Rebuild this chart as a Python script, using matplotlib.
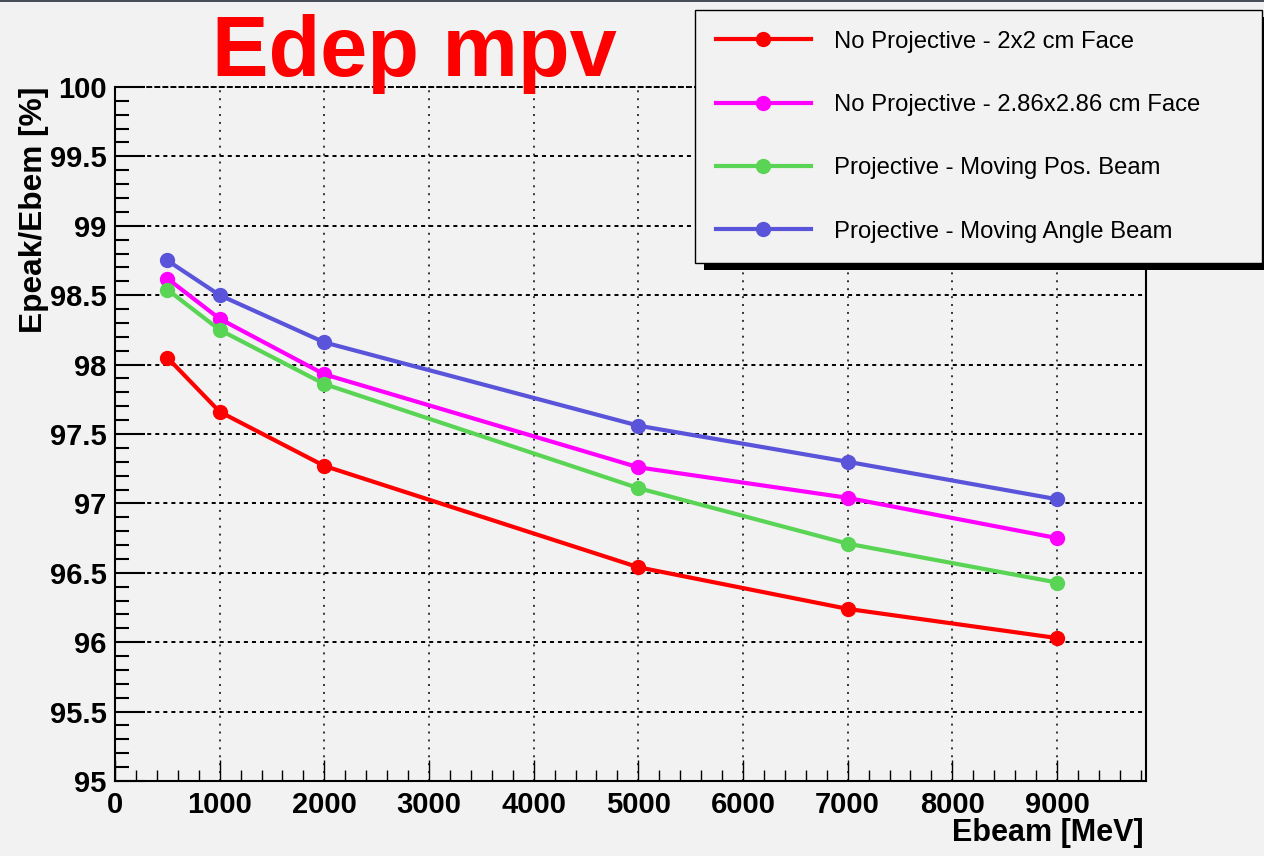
import matplotlib
matplotlib.use("Agg")
import matplotlib.pyplot as plt
from matplotlib.patches import Rectangle
from matplotlib.ticker import MultipleLocator

plt.rcParams['font.family'] = ['Liberation Sans', 'DejaVu Sans']
plt.rcParams['lines.scale_dashes'] = False

# beam energies and peak/beam energy ratios
ebeam = [500, 1000, 2000, 5000, 7000, 9000]
nonproj_2x2 = [98.05, 97.66, 97.27, 96.54, 96.24, 96.03]
nonproj_286 = [98.62, 98.33, 97.93, 97.26, 97.04, 96.75]
proj_pos = [98.54, 98.25, 97.86, 97.11, 96.71, 96.43]
proj_angle = [98.75, 98.50, 98.16, 97.56, 97.30, 97.03]

labels = ["No Projective - 2x2 cm Face",
          "No Projective - 2.86x2.86 cm Face",
          "Projective - Moving Pos. Beam",
          "Projective - Moving Angle Beam"]
colors = ["#ff0000", "#ff00ff", "#59d454", "#5954d9"]

xticks = [0, 1000, 2000, 3000, 4000, 5000, 6000, 7000, 8000, 9000]
yticks = [95, 95.5, 96, 96.5, 97, 97.5, 98, 98.5, 99, 99.5, 100]
ytick_labels = ["95", "95.5", "96", "96.5", "97", "97.5", "98", "98.5", "99", "99.5", "100"]

bg = "#f2f2f2"
W, H = 1264, 856
fig = plt.figure(figsize=(W / 100, H / 100), dpi=100, facecolor=bg)
ax = fig.add_axes([0.091, 0.0876, 0.8156, 0.8108], facecolor=bg)

# thin dark strip along the top edge
fig.patches.append(Rectangle((0, 1 - 2 / H), 1, 2 / H, transform=fig.transFigure,
                             facecolor="#4a4e58", edgecolor="none"))

handles = []
for ys, c, lab in zip([nonproj_2x2, nonproj_286, proj_pos, proj_angle], colors, labels):
    h, = ax.plot(ebeam, ys, color=c, lw=3, marker="o", markersize=10, label=lab,
                 zorder=3, clip_on=False)
    handles.append(h)

ax.set_xlim(0, 9850)
ax.set_ylim(95, 100)
ax.set_xticks(xticks)
ax.set_xticklabels([str(v) for v in xticks])
ax.set_yticks(yticks)
ax.set_yticklabels(ytick_labels)
ax.xaxis.set_minor_locator(MultipleLocator(200))
ax.yaxis.set_minor_locator(MultipleLocator(0.1))

ax.tick_params(axis="y", which="major", direction="in", length=21.6, width=1.5,
               pad=6, labelsize=21)
ax.tick_params(axis="y", which="minor", direction="in", length=10, width=1.5)
ax.tick_params(axis="x", which="major", direction="in", length=15, width=1,
               pad=7.5, labelsize=21)
ax.tick_params(axis="x", which="minor", direction="in", length=8, width=1)
for lab in ax.get_xticklabels() + ax.get_yticklabels():
    lab.set_fontweight("bold")

# dotted grid
ax.yaxis.grid(True, which="major", color="black", lw=1.4, linestyle=(0, (2.9, 2.9)), zorder=1)
ax.xaxis.grid(True, which="major", color="black", lw=1.1, linestyle=(0, (1.4, 4.3)), zorder=1)
ax.set_axisbelow(True)

for side in ["left", "bottom", "right"]:
    ax.spines[side].set_linewidth(1.5)
ax.spines["top"].set_linewidth(1.4)
ax.spines["top"].set_linestyle((0, (2.9, 2.9)))

ax.set_xlabel("Ebeam [MeV]", fontsize=22, fontweight="bold", loc="right")
ax.xaxis.set_label_coords(0.998, -0.053)
ax.set_ylabel("Epeak/Ebem [%]", fontsize=22.8, fontweight="bold", loc="top")
ax.yaxis.set_label_coords(-0.064, 1.0)

fig.text(0.1675, 0.911, "Edep mpv", color="#ff0000", fontsize=61, fontweight="bold",
         ha="left", va="baseline")

# legend box, top-right
lx0, ly0, lx1, ly1 = 695, 10, 1262, 262
leg = fig.legend(handles=handles, loc="upper left", mode="expand",
                 bbox_to_anchor=(lx0 / W, 1 - ly1 / H, (lx1 - lx0) / W, (ly1 - ly0) / H),
                 borderaxespad=0, fontsize=17.2, frameon=True, fancybox=False,
                 edgecolor="black", facecolor=bg, framealpha=1,
                 handlelength=4.0, handletextpad=0.96, labelspacing=1.73, borderpad=0.86)
leg.get_frame().set_linewidth(1.0)
leg.set_zorder(3)

# solid black drop shadow behind the legend frame
fig.canvas.draw()
bb = leg.get_frame().get_window_extent()
fig.patches.append(Rectangle(((bb.x0 + 9) / W, (bb.y0 - 7) / H), bb.width / W, bb.height / H,
                             transform=fig.transFigure, facecolor="black", edgecolor="none",
                             zorder=2))

fig.savefig("out.png", dpi=100, facecolor=bg)
